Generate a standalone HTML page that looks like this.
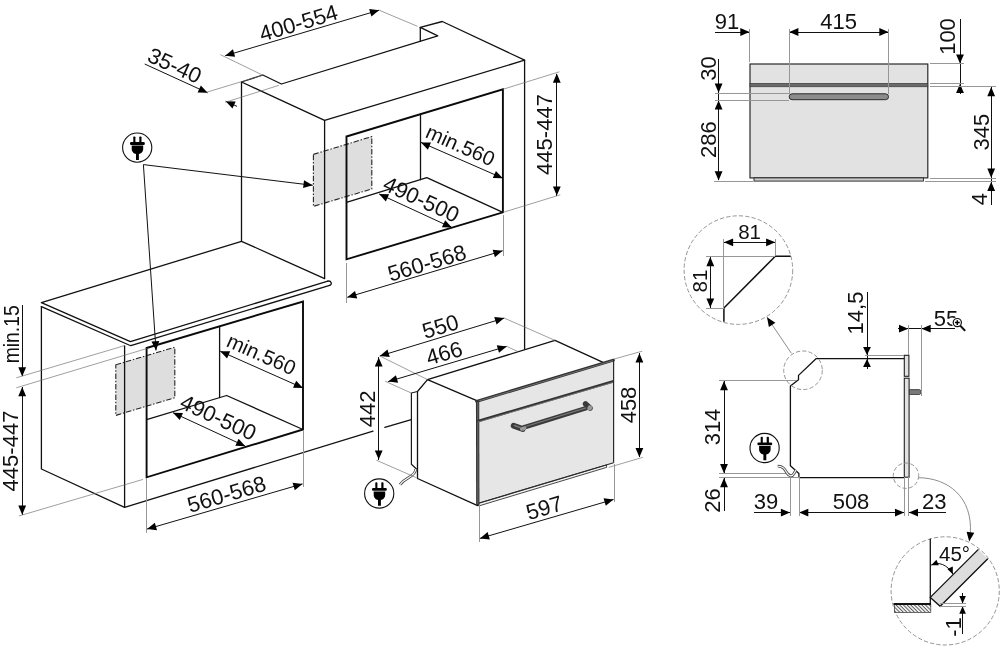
<!DOCTYPE html>
<html><head><meta charset="utf-8"><title>Installation diagram</title>
<style>
html,body{margin:0;padding:0;background:#fff;}
body{width:1000px;height:646px;overflow:hidden;font-family:"Liberation Sans",sans-serif;}
svg{display:block;filter:grayscale(1);}
text{font-family:"Liberation Sans",sans-serif;fill:#111;}
.o{fill:none;stroke:#111;stroke-width:1.3;stroke-linejoin:round;stroke-linecap:round;}
.o2{fill:none;stroke:#1a1a1a;stroke-width:1.2;stroke-linejoin:round;}
.o3{fill:none;stroke:#111;stroke-width:1.5;stroke-linejoin:round;}
.k{fill:none;stroke:#0a0a0a;stroke-width:1.9;stroke-linejoin:miter;}
.k2{stroke:#111;stroke-width:1.8;}
.d{fill:none;stroke:#111;stroke-width:1;}
.t{fill:none;stroke:#6a6a6a;stroke-width:0.65;}
.tc{fill:none;stroke:#979797;stroke-width:1;}
.t2{fill:none;stroke:#808080;stroke-width:0.9;}
.a{fill:#000;stroke:none;}
.g{fill:#dedede;stroke:#222;stroke-width:1.1;stroke-dasharray:5.5 1.8 1.4 1.8;}
.dc{fill:none;stroke:#8e8e8e;stroke-width:0.95;stroke-dasharray:4.2 2.2;}
.f{fill:#e6e6e6;stroke:none;}
.f2{fill:#f2f2f2;stroke:#333;stroke-width:0.9;}
.fk{stroke:#333;stroke-width:2.9;stroke-linecap:round;}
.fk2{stroke:#333;stroke-width:2.6;}
.fk4{stroke:#333;stroke-width:3.3;}
.fl{stroke:#7d7d7d;stroke-width:0.8;}
.fo{stroke:#2a2a2a;stroke-width:1.2;}
.doorf{fill:#ddd;stroke:none;}
.door{fill:none;stroke:#111;stroke-width:1.3;stroke-linejoin:miter;}
</style></head>
<body>
<svg width="1000" height="646" viewBox="0 0 1000 646">
<rect width="1000" height="646" fill="#fff"/>
<polygon class="g" points="313.4,154.4 371.8,136.6 371.8,189 313.4,206.4" />
<polygon class="g" points="115.8,364.8 174.8,347.2 174.8,397.7 115.8,415.4" />
<polyline class="o" points="241.5,241.3 241.5,82 262.8,75 281.4,84 437.8,35.9 420.3,27.3 442.3,21.5 524.6,60.2 524.6,349" />
<line class="o" x1="420.3" y1="27.3" x2="420.3" y2="41.4"/>
<polyline class="o" points="241.5,82 324.6,120.4 524.6,60.2" />
<line class="o" x1="324.6" y1="120.4" x2="324.6" y2="278.6"/>
<polygon class="k" points="346.5,136.5 502.9,89.3 502.9,212.4 346.5,259.3" />
<line class="o" x1="420.5" y1="114.2" x2="420.5" y2="179.7"/>
<polyline class="o" points="346.5,202.3 426.8,177.7 502.9,212.4" />
<line class="d" x1="225.2" y1="55.7" x2="379.1" y2="10.2"/>
<polygon class="a" points="225.20,55.70 232.92,49.35 235.13,56.83"/>
<polygon class="a" points="379.10,10.20 371.38,16.55 369.17,9.07"/>
<line class="t" x1="220.3" y1="54.6" x2="262.8" y2="75.2"/>
<line class="t" x1="379.1" y1="10.2" x2="417.5" y2="26.3"/>
<text transform="translate(298.4,22.6) rotate(-16.5)" x="0" y="7.88" font-size="22" text-anchor="middle" >400-554</text>
<line class="d" x1="144.7" y1="64" x2="207.6" y2="92.8"/>
<polygon class="a" points="207.60,92.80 197.61,92.52 200.86,85.42"/>
<line class="d" x1="225.7" y1="101.2" x2="237" y2="106.4"/>
<polygon class="a" points="225.70,101.20 235.69,101.48 232.44,108.58"/>
<line class="t" x1="206.4" y1="92.3" x2="262.8" y2="75.2"/>
<line class="t" x1="225.2" y1="102.3" x2="279" y2="85.3"/>
<text transform="translate(174.8,65.2) rotate(24.6)" x="0" y="7.88" font-size="22" text-anchor="middle" >35-40</text>
<line class="d" x1="421" y1="142.4" x2="502.8" y2="178.2"/>
<polygon class="a" points="421.00,142.40 430.99,142.52 427.86,149.66"/>
<polygon class="a" points="502.80,178.20 492.81,178.08 495.94,170.94"/>
<text transform="translate(460.6,145.1) rotate(24.0)" x="0" y="7.34" font-size="20.5" text-anchor="middle" >min.560</text>
<line class="d" x1="379.1" y1="194" x2="451.9" y2="227.6"/>
<polygon class="a" points="379.10,194.00 389.09,194.31 385.82,201.40"/>
<polygon class="a" points="451.90,227.60 441.91,227.29 445.18,220.20"/>
<text transform="translate(421.5,199) rotate(24.6)" x="0" y="7.88" font-size="22" text-anchor="middle" >490-500</text>
<line class="d" x1="347.3" y1="297.3" x2="502.6" y2="250.8"/>
<polygon class="a" points="347.30,297.30 354.99,290.92 357.23,298.40"/>
<polygon class="a" points="502.60,250.80 494.91,257.18 492.67,249.70"/>
<line class="tc" x1="346.5" y1="262.7" x2="346.5" y2="302.8" shape-rendering="crispEdges"/>
<line class="tc" x1="503.2" y1="215.2" x2="503.2" y2="255.5" shape-rendering="crispEdges"/>
<text transform="translate(426.8,262.7) rotate(-16.7)" x="0" y="7.88" font-size="22" text-anchor="middle" >560-568</text>
<line class="d" x1="556.8" y1="73.6" x2="556.8" y2="195.6" shape-rendering="crispEdges"/>
<polygon class="a" points="556.80,73.60 560.70,82.80 552.90,82.80"/>
<polygon class="a" points="556.80,195.60 552.90,186.40 560.70,186.40"/>
<line class="t" x1="502.9" y1="89.3" x2="559.4" y2="71.8"/>
<line class="t" x1="502.9" y1="212.4" x2="560.3" y2="194.8"/>
<text transform="translate(544.2,134.5) rotate(-90)" x="0" y="7.88" font-size="22" text-anchor="middle" >445-447</text>
<line class="d" x1="143.4" y1="164.6" x2="312.7" y2="185.3"/>
<polygon class="a" points="312.70,185.30 303.09,188.05 304.04,180.31"/>
<line class="d" x1="143.4" y1="164.6" x2="156" y2="350.4"/>
<polygon class="a" points="156.00,350.40 151.49,341.48 159.27,340.96"/>
<g transform="translate(137.2,147.6)">
<circle cx="0" cy="0" r="14.6" fill="#fff" stroke="#111" stroke-width="1.1"/>
<rect x="-3.9" y="-11.2" width="2.1" height="6.5" rx="0.8" fill="#000"/>
<rect x="2.1" y="-11.2" width="2.2" height="6.5" rx="0.8" fill="#000"/>
<rect x="-7.2" y="-5.6" width="14.8" height="2.9" rx="1.2" fill="#000"/>
<path d="M-5.5,-2.1 H6 V1.5 C6,4.5 3.5,6.4 1.7,6.4 V12.3 H-1.2 V6.4 C-3,6.4 -5.5,4.5 -5.5,1.5 Z" fill="#000"/>
</g>
<polyline class="o" points="241.5,241.3 41.4,302.7 130.4,341.6 327.8,281.1" />
<polyline class="o" points="41.4,306.6 129,345 130.8,345.6 329.7,285.3" />
<path class="o" d="M327.8,281.1 C331.5,280.5 332.5,284.5 329.7,285.3"/>
<line class="o" x1="241.5" y1="241.3" x2="324.6" y2="278.6"/>
<polyline class="o" points="41.4,306.6 41.4,469 124.6,507.3 373,431.2" />
<line class="o" x1="384.8" y1="427.4" x2="411.3" y2="419.6"/>
<line class="o" x1="124.6" y1="345.8" x2="124.6" y2="507.3"/>
<polygon class="k" points="146.6,348 303,301.5 303,429.5 146.6,477.3" />
<line class="o" x1="219.6" y1="326.4" x2="219.6" y2="397.5"/>
<polyline class="o" points="146.6,419.7 226.6,395.5 303,429.5" />
<line class="d" x1="220.2" y1="351.2" x2="303" y2="388"/>
<polygon class="a" points="220.20,351.20 230.19,351.37 227.02,358.50"/>
<polygon class="a" points="303.00,388.00 293.01,387.83 296.18,380.70"/>
<text transform="translate(261.5,354) rotate(24.0)" x="0" y="7.34" font-size="20.5" text-anchor="middle" >min.560</text>
<line class="d" x1="173" y1="412.7" x2="245.3" y2="446.2"/>
<polygon class="a" points="173.00,412.70 182.99,413.03 179.71,420.11"/>
<polygon class="a" points="245.30,446.20 235.31,445.87 238.59,438.79"/>
<text transform="translate(218.5,417.2) rotate(24.6)" x="0" y="7.88" font-size="22" text-anchor="middle" >490-500</text>
<line class="d" x1="147.1" y1="529.1" x2="302.5" y2="483.9"/>
<polygon class="a" points="147.10,529.10 154.84,522.79 157.02,530.28"/>
<polygon class="a" points="302.50,483.90 294.76,490.21 292.58,482.72"/>
<line class="tc" x1="146.5" y1="478.2" x2="146.5" y2="533.3" shape-rendering="crispEdges"/>
<line class="tc" x1="303" y1="430.5" x2="303" y2="487.2" shape-rendering="crispEdges"/>
<text transform="translate(226.5,494) rotate(-16.5)" x="0" y="7.88" font-size="22" text-anchor="middle" >560-568</text>
<line class="d" x1="22.2" y1="305.2" x2="22.2" y2="376.4" shape-rendering="crispEdges"/>
<polygon class="a" points="22.20,376.40 18.30,367.20 26.10,367.20"/>
<line class="d" x1="22.2" y1="387.1" x2="22.2" y2="514.8" shape-rendering="crispEdges"/>
<polygon class="a" points="22.20,387.10 26.10,396.30 18.30,396.30"/>
<polygon class="a" points="22.20,514.80 18.30,505.60 26.10,505.60"/>
<line class="t" x1="16.3" y1="377.8" x2="124.6" y2="345.6"/>
<line class="t" x1="16.3" y1="387.8" x2="146.6" y2="348.6"/>
<line class="t" x1="18.8" y1="516" x2="143" y2="479.4"/>
<text transform="translate(10.9,334.3) rotate(-90)" x="0" y="7.70" font-size="21.5" text-anchor="middle" textLength="58" lengthAdjust="spacingAndGlyphs">min.15</text>
<text transform="translate(10.1,451) rotate(-90)" x="0" y="7.88" font-size="22" text-anchor="middle" >445-447</text>
<polyline class="o" points="427.5,379.6 555,340.4 603,362.4" />
<polyline class="o" points="427.5,379.6 476.2,400.4" />
<polyline class="o" points="427.5,379.6 417.5,391.5 417.5,478.5 477.6,505.6" />
<polyline class="o2" points="417.4,391.5 411.4,393 411.4,464.2 417.3,469.8" />
<path d="M415.8,469 C415.4,474 411.5,476 408,478 C404.5,480 402,482 400,484.6" fill="none" stroke="#4a4a4a" stroke-width="2.8"/>
<path d="M415.8,469 C415.4,474 411.5,476 408,478 C404.5,480 402,482 400,484.6" fill="none" stroke="#fff" stroke-width="1.1"/>
<polygon class="f" points="476.2,400.4 613.6,359.2 613.6,462.8 478.6,503.2" />
<polygon class="f2" points="478.6,503.2 606.6,464.9 606.6,467.4 478.6,506" />
<line class="fo" x1="478.6" y1="503.2" x2="613.6" y2="462.8"/>
<line class="fk" x1="476.6" y1="401.3" x2="613.4" y2="360.2"/>
<line class="fl" x1="478" y1="401.2" x2="613.4" y2="360.5"/>
<line class="fk4" x1="477.6" y1="400.4" x2="477.8" y2="505"/>
<line class="fl" x1="477.8" y1="402" x2="477.9" y2="504"/>
<line class="fk2" x1="477.5" y1="421.2" x2="613.6" y2="381.3"/>
<line class="fl" x1="478" y1="422" x2="613.6" y2="382.2"/>
<line class="fo" x1="613.6" y1="359.2" x2="613.6" y2="462.8"/>
<g stroke-linecap="round">
<line x1="513.6" y1="425.8" x2="522.8" y2="429" stroke="#3a3a3a" stroke-width="5.7"/>
<line x1="585.6" y1="404" x2="590" y2="408" stroke="#3a3a3a" stroke-width="5.6"/>
<line x1="522.8" y1="427.7" x2="587" y2="407.9" stroke="#3a3a3a" stroke-width="4.6" stroke-linecap="butt"/>
<line x1="524" y1="427" x2="586" y2="407.9" stroke="#777" stroke-width="1.2" stroke-linecap="butt"/>
<line x1="514.5" y1="425.6" x2="520" y2="427.5" stroke="#777" stroke-width="1.6"/>
<ellipse cx="523.2" cy="428.7" rx="3.3" ry="1.9" transform="rotate(-15 523.2 428.7)" fill="#9a9a9a"/>
<ellipse cx="589.9" cy="407.9" rx="2.4" ry="2.6" transform="rotate(30 589.9 407.9)" fill="#9a9a9a"/>
</g>
<line class="d" x1="379.8" y1="356" x2="504.2" y2="318.1"/>
<polygon class="a" points="379.80,356.00 387.46,349.59 389.74,357.05"/>
<polygon class="a" points="504.20,318.10 496.54,324.51 494.26,317.05"/>
<line class="t" x1="379.8" y1="356" x2="427.5" y2="379.6"/>
<line class="t" x1="504.2" y1="318.1" x2="555" y2="340.4"/>
<text transform="translate(440.3,326.2) rotate(-16.9)" x="0" y="7.88" font-size="22" text-anchor="middle" >550</text>
<line class="d" x1="388.2" y1="381.6" x2="506.7" y2="346.4"/>
<polygon class="a" points="388.20,381.60 395.91,375.24 398.13,382.72"/>
<polygon class="a" points="506.70,346.40 498.99,352.76 496.77,345.28"/>
<line class="t" x1="385" y1="381.2" x2="411.3" y2="393"/>
<line class="t" x1="506.7" y1="346.4" x2="518" y2="351.6"/>
<text transform="translate(444.2,352.8) rotate(-16.5)" x="0" y="7.88" font-size="22" text-anchor="middle" >466</text>
<line class="d" x1="378.7" y1="357.4" x2="378.7" y2="459.6" shape-rendering="crispEdges"/>
<polygon class="a" points="378.70,357.40 382.60,366.60 374.80,366.60"/>
<polygon class="a" points="378.70,459.60 374.80,450.40 382.60,450.40"/>
<line class="t" x1="376.3" y1="460.2" x2="416.4" y2="477.7"/>
<text transform="translate(367.3,408.8) rotate(-90)" x="0" y="7.88" font-size="22" text-anchor="middle" >442</text>
<line class="d" x1="639.4" y1="353.2" x2="639.4" y2="457.3" shape-rendering="crispEdges"/>
<polygon class="a" points="639.40,353.20 643.30,362.40 635.50,362.40"/>
<polygon class="a" points="639.40,457.30 635.50,448.10 643.30,448.10"/>
<line class="t" x1="613.5" y1="359.2" x2="642.2" y2="351.2"/>
<line class="t" x1="608.7" y1="467.4" x2="642.9" y2="457.3"/>
<text transform="translate(628.5,405) rotate(-90)" x="0" y="7.88" font-size="22" text-anchor="middle" >458</text>
<line class="d" x1="479.9" y1="538.4" x2="613.5" y2="499.5"/>
<polygon class="a" points="479.90,538.40 487.64,532.08 489.82,539.57"/>
<polygon class="a" points="613.50,499.50 605.76,505.82 603.58,498.33"/>
<line class="tc" x1="479.1" y1="505.3" x2="479.1" y2="542.4" shape-rendering="crispEdges"/>
<line class="tc" x1="614" y1="464.4" x2="614" y2="501.6" shape-rendering="crispEdges"/>
<text transform="translate(544.3,507.5) rotate(-16.2)" x="0" y="7.88" font-size="22" text-anchor="middle" >597</text>
<g transform="translate(379.2,493.5)">
<circle cx="0" cy="0" r="14.6" fill="#fff" stroke="#111" stroke-width="1.1"/>
<rect x="-3.9" y="-11.2" width="2.1" height="6.5" rx="0.8" fill="#000"/>
<rect x="2.1" y="-11.2" width="2.2" height="6.5" rx="0.8" fill="#000"/>
<rect x="-7.2" y="-5.6" width="14.8" height="2.9" rx="1.2" fill="#000"/>
<path d="M-5.5,-2.1 H6 V1.5 C6,4.5 3.5,6.4 1.7,6.4 V12.3 H-1.2 V6.4 C-3,6.4 -5.5,4.5 -5.5,1.5 Z" fill="#000"/>
</g>
<rect x="750" y="64" width="177.8" height="113.9" fill="#e2e2e2" stroke="#2a2a2a" stroke-width="1.2"/>
<rect x="750" y="83.3" width="177.8" height="3.5" fill="#6a6a6a" stroke="#333" stroke-width="0.6"/>
<rect x="789.2" y="93.8" width="99.3" height="5.9" rx="2.95" fill="#8c8c8c" stroke="#2a2a2a" stroke-width="1"/>
<rect x="754" y="177.9" width="169.4" height="3.2" fill="#ccc" stroke="#222" stroke-width="0.9"/>
<line class="d" x1="715" y1="32" x2="749.5" y2="32" shape-rendering="crispEdges"/>
<polygon class="a" points="749.50,32.00 740.30,35.90 740.30,28.10"/>
<line class="d" x1="789.2" y1="32" x2="888.5" y2="32" shape-rendering="crispEdges"/>
<polygon class="a" points="789.20,32.00 798.40,28.10 798.40,35.90"/>
<polygon class="a" points="888.50,32.00 879.30,35.90 879.30,28.10"/>
<line class="tc" x1="749.5" y1="28.5" x2="749.5" y2="61.6" shape-rendering="crispEdges"/>
<line class="tc" x1="789.2" y1="28.5" x2="789.2" y2="93.7" shape-rendering="crispEdges"/>
<line class="tc" x1="888.5" y1="28.5" x2="888.5" y2="93.7" shape-rendering="crispEdges"/>
<text transform="translate(727,21.6) rotate(0)" x="0" y="7.88" font-size="22" text-anchor="middle" >91</text>
<text transform="translate(838.7,21.6) rotate(0)" x="0" y="7.88" font-size="22" text-anchor="middle" >415</text>
<line class="d" x1="718.6" y1="58.6" x2="718.6" y2="92.7" shape-rendering="crispEdges"/>
<polygon class="a" points="718.60,92.70 714.70,83.50 722.50,83.50"/>
<line class="d" x1="718.6" y1="100.4" x2="718.6" y2="180.4" shape-rendering="crispEdges"/>
<polygon class="a" points="718.60,100.40 722.50,109.60 714.70,109.60"/>
<polygon class="a" points="718.60,180.40 714.70,171.20 722.50,171.20"/>
<line class="d" x1="718.6" y1="92.7" x2="718.6" y2="100.4" shape-rendering="crispEdges"/>
<line class="tc" x1="715" y1="93.5" x2="789.2" y2="93.5" shape-rendering="crispEdges"/>
<line class="tc" x1="715" y1="100.4" x2="789.2" y2="100.4" shape-rendering="crispEdges"/>
<line class="tc" x1="713.5" y1="181" x2="752.5" y2="181" shape-rendering="crispEdges"/>
<text transform="translate(708.4,68.5) rotate(-90)" x="0" y="7.88" font-size="22" text-anchor="middle" >30</text>
<text transform="translate(708.4,139.6) rotate(-90)" x="0" y="7.88" font-size="22" text-anchor="middle" >286</text>
<line class="d" x1="960" y1="19.2" x2="960" y2="93.8" shape-rendering="crispEdges"/>
<polygon class="a" points="960.00,63.60 956.10,54.40 963.90,54.40"/>
<polygon class="a" points="960.00,83.80 963.90,93.00 956.10,93.00"/>
<line class="tc" x1="930.3" y1="63.8" x2="964.4" y2="63.8" shape-rendering="crispEdges"/>
<line class="tc" x1="930.3" y1="83" x2="964.4" y2="83" shape-rendering="crispEdges"/>
<line class="tc" x1="930.3" y1="86.5" x2="996.4" y2="86.5" shape-rendering="crispEdges"/>
<text transform="translate(947.4,36.5) rotate(-90)" x="0" y="7.88" font-size="22" text-anchor="middle" >100</text>
<line class="d" x1="991.2" y1="87" x2="991.2" y2="177.8" shape-rendering="crispEdges"/>
<polygon class="a" points="991.20,87.00 995.10,96.20 987.30,96.20"/>
<polygon class="a" points="991.20,177.80 987.30,168.60 995.10,168.60"/>
<text transform="translate(980.8,132.1) rotate(-90)" x="0" y="7.88" font-size="22" text-anchor="middle" >345</text>
<line class="d" x1="991.2" y1="177.8" x2="991.2" y2="205" shape-rendering="crispEdges"/>
<polygon class="a" points="991.20,181.80 995.10,191.00 987.30,191.00"/>
<line class="tc" x1="930.3" y1="178" x2="996.4" y2="178" shape-rendering="crispEdges"/>
<line class="tc" x1="925" y1="181.5" x2="996.4" y2="181.5" shape-rendering="crispEdges"/>
<text transform="translate(979.4,199) rotate(-90)" x="0" y="7.88" font-size="22" text-anchor="middle" >4</text>
<polyline class="o" points="904.2,358.7 816,358.7 798.5,375.4 798.5,379.8 790.4,386.1 790.4,465.8 798.9,473.4 798.9,477.6 904.2,477.6" />
<rect x="904.3" y="355.3" width="4.6" height="21" fill="#e2e2e2" stroke="#222" stroke-width="1.1"/>
<rect x="904.3" y="378.2" width="4.8" height="99" fill="#e2e2e2" stroke="#222" stroke-width="1.1"/>
<path d="M909.4,389.6 H919.2 Q921,389.6 921,392 Q921,394.5 919.2,394.5 H909.4 Z" fill="#7a7a7a" stroke="#333" stroke-width="0.8"/>
<line class="d" x1="724" y1="381.1" x2="724" y2="473.2" shape-rendering="crispEdges"/>
<polygon class="a" points="724.00,381.10 727.90,390.30 720.10,390.30"/>
<polygon class="a" points="724.00,473.20 720.10,464.00 727.90,464.00"/>
<line class="d" x1="724" y1="478.1" x2="724" y2="511" shape-rendering="crispEdges"/>
<polygon class="a" points="724.00,478.10 727.90,487.30 720.10,487.30"/>
<line class="tc" x1="718.6" y1="380.8" x2="796" y2="380.8" shape-rendering="crispEdges"/>
<line class="tc" x1="718.6" y1="473.6" x2="790.4" y2="473.6" shape-rendering="crispEdges"/>
<line class="tc" x1="718.6" y1="477.8" x2="799.1" y2="477.8" shape-rendering="crispEdges"/>
<text transform="translate(712.6,427) rotate(-90)" x="0" y="7.88" font-size="22" text-anchor="middle" >314</text>
<text transform="translate(712.6,500.6) rotate(-90)" x="0" y="7.88" font-size="22" text-anchor="middle" >26</text>
<line class="d" x1="754" y1="512.6" x2="790.1" y2="512.6" shape-rendering="crispEdges"/>
<polygon class="a" points="790.10,512.60 780.90,516.50 780.90,508.70"/>
<line class="d" x1="799.1" y1="512.6" x2="904.2" y2="512.6" shape-rendering="crispEdges"/>
<polygon class="a" points="799.10,512.60 808.30,508.70 808.30,516.50"/>
<polygon class="a" points="904.20,512.60 895.00,516.50 895.00,508.70"/>
<line class="d" x1="908.8" y1="512.6" x2="946" y2="512.6" shape-rendering="crispEdges"/>
<polygon class="a" points="908.80,512.60 918.00,508.70 918.00,516.50"/>
<line class="tc" x1="790.1" y1="473.6" x2="790.1" y2="515.6" shape-rendering="crispEdges"/>
<line class="tc" x1="799.1" y1="477.3" x2="799.1" y2="515.6" shape-rendering="crispEdges"/>
<line class="tc" x1="904.2" y1="477.3" x2="904.2" y2="515.6" shape-rendering="crispEdges"/>
<line class="tc" x1="908.8" y1="477.3" x2="908.8" y2="515.6" shape-rendering="crispEdges"/>
<text transform="translate(766,501.5) rotate(0)" x="0" y="7.88" font-size="22" text-anchor="middle" >39</text>
<text transform="translate(851,501.5) rotate(0)" x="0" y="7.88" font-size="22" text-anchor="middle" >508</text>
<text transform="translate(934.3,501.5) rotate(0)" x="0" y="7.88" font-size="22" text-anchor="middle" >23</text>
<line class="d" x1="867" y1="291.7" x2="867" y2="369.3" shape-rendering="crispEdges"/>
<polygon class="a" points="867.00,355.00 863.10,347.00 870.90,347.00"/>
<polygon class="a" points="867.00,359.00 870.90,367.00 863.10,367.00"/>
<line class="tc" x1="865" y1="355" x2="904.2" y2="355" shape-rendering="crispEdges"/>
<text transform="translate(855,313) rotate(-90)" x="0" y="7.88" font-size="22" text-anchor="middle" >14,5</text>
<line class="d" x1="898.2" y1="328.8" x2="954.5" y2="328.8" shape-rendering="crispEdges"/>
<polygon class="a" points="908.20,328.70 899.00,332.60 899.00,324.80"/>
<polygon class="a" points="921.50,328.70 930.70,324.80 930.70,332.60"/>
<line class="tc" x1="908.5" y1="325" x2="908.5" y2="355" shape-rendering="crispEdges"/>
<line class="tc" x1="921.5" y1="325" x2="921.5" y2="395.6" shape-rendering="crispEdges"/>
<text transform="translate(946,318.5) rotate(0)" x="0" y="7.88" font-size="22" text-anchor="middle" >55</text>
<g><circle cx="957.3" cy="322.6" r="5.6" fill="#fff"/><line x1="960.2" y1="325.6" x2="964.6" y2="330.3" stroke="#111" stroke-width="2" stroke-linecap="round"/><circle cx="957.3" cy="322.6" r="4.1" fill="#fff" stroke="#111" stroke-width="1.2"/><path d="M954.9,322.6H959.7M957.3,320.2V325" stroke="#000" stroke-width="1.5"/></g>
<g transform="translate(764.6,448)">
<circle cx="0" cy="0" r="14.6" fill="#fff" stroke="#111" stroke-width="1.1"/>
<rect x="-3.9" y="-11.2" width="2.1" height="6.5" rx="0.8" fill="#000"/>
<rect x="2.1" y="-11.2" width="2.2" height="6.5" rx="0.8" fill="#000"/>
<rect x="-7.2" y="-5.6" width="14.8" height="2.9" rx="1.2" fill="#000"/>
<path d="M-5.5,-2.1 H6 V1.5 C6,4.5 3.5,6.4 1.7,6.4 V12.3 H-1.2 V6.4 C-3,6.4 -5.5,4.5 -5.5,1.5 Z" fill="#000"/>
</g>
<path d="M777.7,466.2 C783,466 785,469.5 787,473 C789,476.5 792.2,477 794,473.5 C795,471.8 795.5,471 796,470" fill="none" stroke="#4a4a4a" stroke-width="2.8"/>
<path d="M777.7,466.2 C783,466 785,469.5 787,473 C789,476.5 792.2,477 794,473.5 C795,471.8 795.5,471 796,470" fill="none" stroke="#fff" stroke-width="1.1"/>
<circle class="dc" cx="803" cy="370.3" r="19.3"/>
<line class="t2" x1="791.4" y1="353.3" x2="767" y2="317.2"/>
<polygon class="a" points="767.00,317.20 775.38,322.64 768.92,327.01"/>
<circle class="dc" cx="738.4" cy="270.1" r="54.3"/>
<polyline class="o3" points="790.7,256.3 775.3,256.3 723.9,308 723.9,321.7" />
<line class="d" x1="723.9" y1="242.3" x2="775.3" y2="242.3" shape-rendering="crispEdges"/>
<polygon class="a" points="723.90,242.30 733.10,238.40 733.10,246.20"/>
<polygon class="a" points="775.30,242.30 766.10,246.20 766.10,238.40"/>
<line class="tc" x1="723.6" y1="239.2" x2="723.6" y2="308" shape-rendering="crispEdges"/>
<line class="tc" x1="775.3" y1="239.2" x2="775.3" y2="256.3" shape-rendering="crispEdges"/>
<line class="tc" x1="705.8" y1="256.3" x2="775.3" y2="256.3" shape-rendering="crispEdges"/>
<line class="tc" x1="705.8" y1="308.3" x2="723.9" y2="308.3" shape-rendering="crispEdges"/>
<line class="d" x1="710.3" y1="257" x2="710.3" y2="307.6" shape-rendering="crispEdges"/>
<polygon class="a" points="710.30,257.00 714.20,266.20 706.40,266.20"/>
<polygon class="a" points="710.30,307.60 706.40,298.40 714.20,298.40"/>
<text transform="translate(749.6,231.6) rotate(0)" x="0" y="7.34" font-size="20.5" text-anchor="middle" >81</text>
<text transform="translate(699.6,281.1) rotate(-90)" x="0" y="7.34" font-size="20.5" text-anchor="middle" >81</text>
<circle class="dc" cx="906" cy="475.7" r="12.7"/>
<path class="t2" d="M918.6,477.7 C948,478 973,497 970.3,534" fill="none"/>
<polygon class="a" points="969.20,541.40 966.59,531.75 974.32,532.82"/>
<circle class="dc" cx="945.2" cy="590.9" r="54.1"/>
<line class="o" x1="930.3" y1="539.2" x2="930.3" y2="604"/>
<polygon class="doorf" points="930.3,597.4 940.2,606.3 987.8,558.7 978.4,549.4" />
<polyline class="door" points="978.4,549.4 930.3,597.4 940.2,606.3 987.8,558.7" />
<defs><pattern id="h" width="2.6" height="2.6" patternUnits="userSpaceOnUse" patternTransform="rotate(-45)"><rect width="2.6" height="2.6" fill="#eee"/><line x1="0" y1="0" x2="0" y2="2.6" stroke="#222" stroke-width="1.3"/></pattern></defs>
<rect x="894.4" y="604" width="36.4" height="8.4" fill="url(#h)" stroke="#333" stroke-width="0.7"/>
<line class="k2" x1="893.5" y1="604" x2="931" y2="604"/>
<text transform="translate(954.5,553.6) rotate(0)" x="0" y="7.34" font-size="20.5" text-anchor="middle" >45°</text>
<path class="d" d="M931.2,565 C938,561 948,565 952.8,574" fill="none"/>
<polygon class="a" points="931.20,565.20 936.41,559.65 938.82,565.14"/>
<polygon class="a" points="952.80,574.20 947.29,568.95 952.80,566.58"/>
<line class="d" x1="962.6" y1="592.9" x2="962.6" y2="603.3" shape-rendering="crispEdges"/>
<polygon class="a" points="962.60,603.40 959.30,595.90 965.90,595.90"/>
<line class="d" x1="962.6" y1="606.3" x2="962.6" y2="633.8" shape-rendering="crispEdges"/>
<polygon class="a" points="962.60,606.30 965.90,613.80 959.30,613.80"/>
<line class="tc" x1="940.2" y1="603.6" x2="966.2" y2="603.6" shape-rendering="crispEdges"/>
<line class="tc" x1="940.2" y1="606.4" x2="966.2" y2="606.4" shape-rendering="crispEdges"/>
<text transform="translate(952.7,627) rotate(-90)" x="0" y="7.88" font-size="22" text-anchor="middle" >-1</text>
</svg>
</body></html>
